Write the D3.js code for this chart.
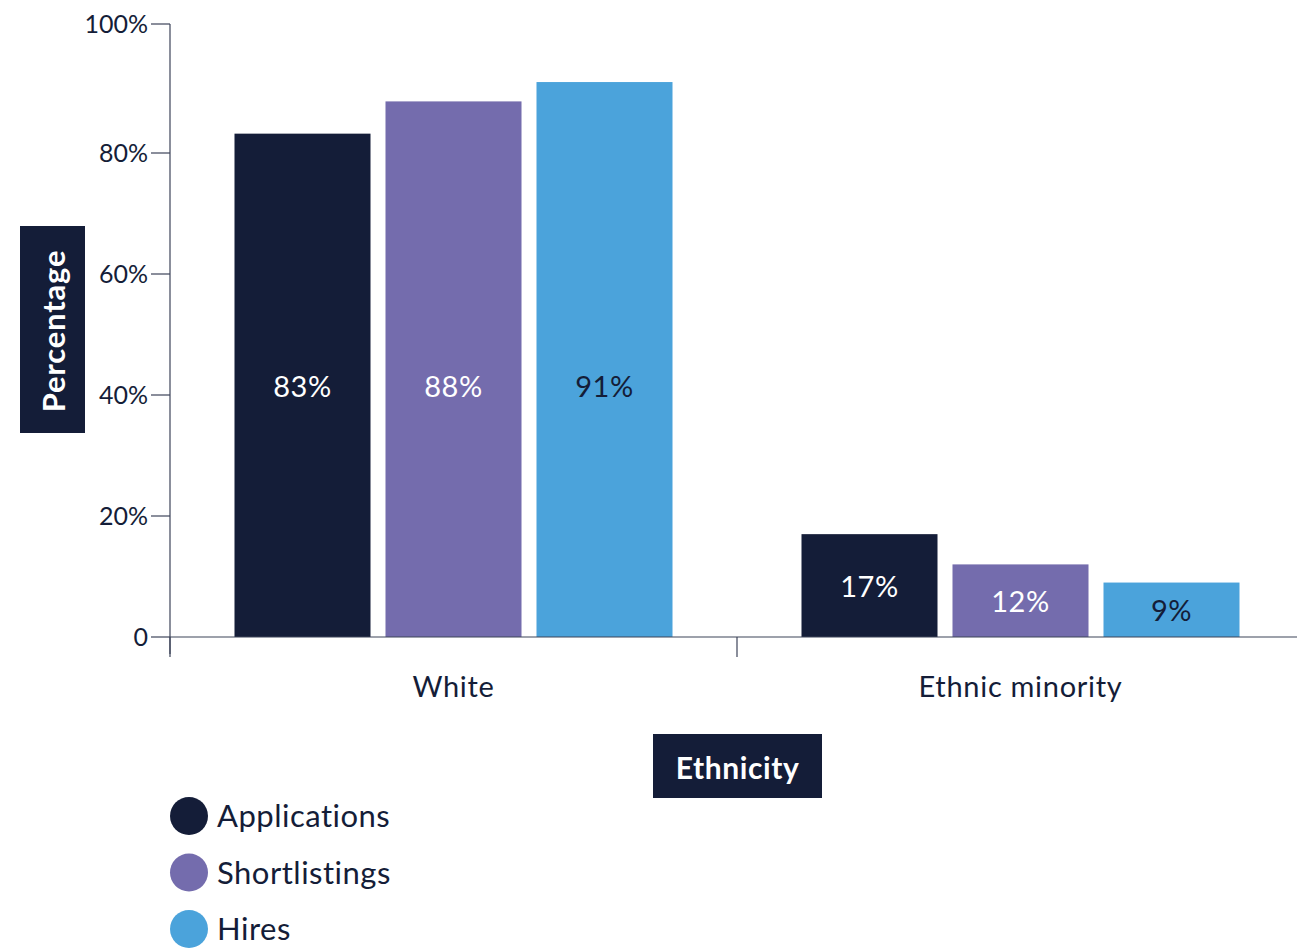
<!DOCTYPE html>
<html>
<head>
<meta charset="utf-8">
<script src="https://cdn.jsdelivr.net/npm/d3@7"></script>
<style>
  html, body { margin: 0; padding: 0; background: #ffffff; }
  svg { display: block; font-family: "Lato", "Open Sans", sans-serif; }
</style>
</head>
<body>
<svg id="chart" width="1297" height="948"></svg>
<script>
// Share of applications, shortlistings and hires by ethnicity (%)
const categories = ["White", "Ethnic minority"];
const seriesNames = ["Applications", "Shortlistings", "Hires"];
const applications = [83, 17];
const shortlistings = [88, 12];
const hires = [91, 9];
const yTicks = [0, 20, 40, 60, 80, 100];
const yTickLabels = ["0", "20%", "40%", "60%", "80%", "100%"];

const seriesValues = [applications, shortlistings, hires];
const colors = ["#141d38", "#746cad", "#4ba3db"];
const labelColors = ["#ffffff", "#ffffff", "#141d38"];
const ink = "#141d38";
const axisColor = "#3d4459";

const svg = d3.select("#chart");

const plotLeft = 170, plotRight = 1304, plotBottom = 637;

// value axis: 0-80% and 80-100% segments
const y = d3.scaleLinear().domain([0, 80, 100]).range([plotBottom, 153, 24]);

const x0 = d3.scaleBand()
  .domain(categories)
  .range([plotLeft, plotRight])
  .paddingInner(0.2275)
  .paddingOuter(0.11375);

const x1 = d3.scaleBand()
  .domain(seriesNames)
  .range([0, x0.bandwidth()])
  .paddingInner(0.0993);

// bars
const rows = categories.map((c, i) => ({
  category: c,
  items: seriesNames.map((s, k) => ({ series: s, k, value: seriesValues[k][i] }))
}));

const groups = svg.append("g").selectAll("g")
  .data(rows).join("g")
  .attr("transform", d => `translate(${x0(d.category)},0)`);

groups.selectAll("rect")
  .data(d => d.items).join("rect")
  .attr("x", d => x1(d.series))
  .attr("width", x1.bandwidth())
  .attr("y", d => y(d.value))
  .attr("height", d => y(0) - y(d.value))
  .attr("fill", d => colors[d.k]);

// value labels: centred in the bar, kept no higher than the label row of tall bars
const labelCap = 41.5;
groups.selectAll("text")
  .data(d => d.items).join("text")
  .attr("x", d => x1(d.series) + x1.bandwidth() / 2)
  .attr("y", d => Math.max(y(d.value / 2), y(labelCap)))
  .attr("text-anchor", "middle")
  .attr("dominant-baseline", "central")
  .attr("font-size", 29)
  .attr("letter-spacing", 0.5)
  .attr("fill", d => labelColors[d.k])
  .text(d => d.value + "%");

// y axis
const yAxis = svg.append("g");
yAxis.append("line")
  .attr("x1", plotLeft).attr("x2", plotLeft)
  .attr("y1", y(100)).attr("y2", plotBottom + 17)
  .attr("stroke", axisColor).attr("stroke-width", 1.2);
yAxis.selectAll(".tick")
  .data(yTicks).join("line")
  .attr("x1", plotLeft - 19).attr("x2", plotLeft)
  .attr("y1", d => y(d)).attr("y2", d => y(d))
  .attr("stroke", axisColor).attr("stroke-width", 1.2);
yAxis.selectAll("text")
  .data(yTicks).join("text")
  .attr("x", plotLeft - 22)
  .attr("y", d => y(d))
  .attr("dy", "0.36em")
  .attr("text-anchor", "end")
  .attr("font-size", 25)
  .attr("fill", ink)
  .text((d, i) => yTickLabels[i]);

// x axis
const xAxis = svg.append("g");
xAxis.append("line")
  .attr("x1", plotLeft).attr("x2", 1297)
  .attr("y1", plotBottom).attr("y2", plotBottom)
  .attr("stroke", axisColor).attr("stroke-width", 1.2);
const bandEdges = categories.map(c => x0(c) - (x0.step() - x0.bandwidth()) / 2);
xAxis.selectAll(".tick")
  .data(bandEdges).join("line")
  .attr("x1", d => d).attr("x2", d => d)
  .attr("y1", plotBottom).attr("y2", plotBottom + 20)
  .attr("stroke", axisColor).attr("stroke-width", 1.2);
xAxis.selectAll("text")
  .data(categories).join("text")
  .attr("x", d => x0(d) + x0.bandwidth() / 2)
  .attr("y", 687)
  .attr("dy", "0.36em")
  .attr("text-anchor", "middle")
  .attr("font-size", 29)
  .attr("letter-spacing", 0.7)
  .attr("fill", ink)
  .text(d => d);

// axis titles on dark boxes
const yTitle = svg.append("g");
yTitle.append("rect").attr("x", 20).attr("y", 226).attr("width", 65).attr("height", 207).attr("fill", ink);
yTitle.append("text")
  .attr("transform", "translate(53,331) rotate(-90)")
  .attr("text-anchor", "middle")
  .attr("dominant-baseline", "central")
  .attr("font-size", 31).attr("font-weight", 700)
  .attr("letter-spacing", 0.8)
  .attr("fill", "#ffffff")
  .text("Percentage");

const xTitle = svg.append("g");
xTitle.append("rect").attr("x", 653).attr("y", 734).attr("width", 169).attr("height", 64).attr("fill", ink);
xTitle.append("text")
  .attr("x", 737.5).attr("y", 767)
  .attr("text-anchor", "middle")
  .attr("dominant-baseline", "central")
  .attr("font-size", 30).attr("font-weight", 700)
  .attr("letter-spacing", 0.6)
  .attr("fill", "#ffffff")
  .text("Ethnicity");

// legend
const legend = svg.append("g").selectAll("g")
  .data(seriesNames).join("g")
  .attr("transform", (d, i) => `translate(189,${816 + i * 56.5})`);
legend.append("circle").attr("r", 19).attr("fill", (d, i) => colors[i]);
legend.append("text")
  .attr("x", 28)
  .attr("dy", "0.36em")
  .attr("font-size", 31)
  .attr("letter-spacing", 0.5)
  .attr("fill", ink)
  .text(d => d);
</script>
</body>
</html>
